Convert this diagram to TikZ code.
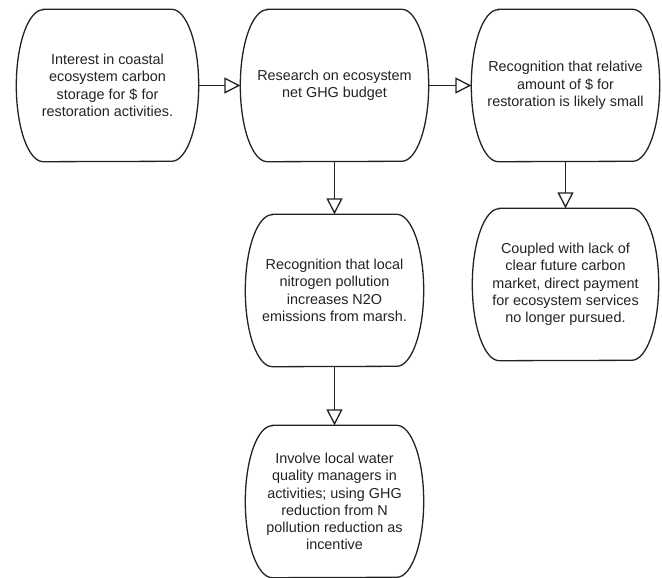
\documentclass[tikz,border=0pt]{standalone}
\usepackage{fontspec}
\setmainfont{Liberation Sans}
\usetikzlibrary{arrows.meta}
\definecolor{ink}{HTML}{222222}
\newcommand\boxoutline[1]{%
  \draw[boxline] ([xshift=27pt]#1.north west) -- ([xshift=-27pt]#1.north east)
    arc[start angle=90,end angle=-90,x radius=27pt,y radius=76pt]
    -- ([xshift=27pt]#1.south west)
    arc[start angle=270,end angle=90,x radius=27pt,y radius=76pt] -- cycle;}
\begin{document}
\begin{tikzpicture}[x=1pt,y=-1pt,
  stadium/.style={rectangle,minimum height=152pt,inner sep=0pt,align=center,
    text=ink,font=\fontsize{14.4}{17.3}\selectfont},
  boxline/.style={draw=ink,line width=1.3pt},
  flow/.style={draw=ink,line width=1.3pt,-{Triangle[open,length=16pt,width=16pt]}}]
\useasboundingbox (0,0) rectangle (662,578);
\node[stadium,minimum width=182pt] (b1) at (107.5,85.5) {Interest in coastal\\ecosystem carbon\\storage for \$ for\\restoration activities.};
\node[stadium,minimum width=188pt] (b2) at (334.5,85.5) {Research on ecosystem\\net GHG budget};
\node[stadium,minimum width=188pt] (b3) at (565.5,85.5) {Recognition that relative\\amount of \$ for\\restoration is likely small};
\node[stadium,minimum width=186pt] (b5) at (565.5,284.5) {Coupled with lack of\\clear future carbon\\market, direct payment\\for ecosystem services\\no longer pursued.};
\node[stadium,minimum width=178pt] (b4) at (334.5,290.5) {Recognition that local\\nitrogen pollution\\increases N2O\\emissions from marsh.};
\node[stadium,minimum width=178pt] (b6) at (334.5,501.5) {Involve local water\\quality managers in\\activities; using GHG\\reduction from N\\pollution reduction as\\incentive};
\boxoutline{b1}\boxoutline{b2}\boxoutline{b3}\boxoutline{b4}\boxoutline{b5}\boxoutline{b6}
\draw[flow] (b1.east) -- (b2.west);
\draw[flow] (b2.east) -- (b3.west);
\draw[flow] (b2.south) -- (b4.north);
\draw[flow] (b3.south) -- (b5.north);
\draw[flow] (b4.south) -- (b6.north);
\end{tikzpicture}
\end{document}
